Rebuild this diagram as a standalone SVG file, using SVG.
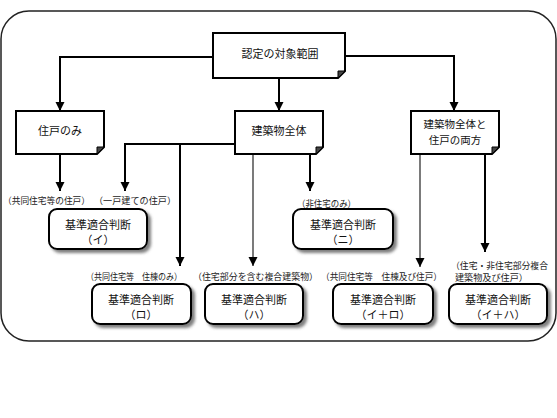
<svg xmlns="http://www.w3.org/2000/svg" width="557" height="418" viewBox="0 0 557 418">
<style>
  .frame { fill: #fff; stroke: #222; stroke-width: 1.5; }
  .note { fill: #fff; stroke: #000; stroke-width: 2; }
  .fold { fill: #444; stroke: #000; stroke-width: 1; }
  .rbox { fill: #fff; stroke: #000; stroke-width: 2; filter: url(#shadow); }
  .t { font-family: "Noto Sans CJK JP", "Noto Sans", sans-serif; font-size: 11px; fill: #111; text-anchor: middle; dominant-baseline: central; }
  .lbl { font-family: "Noto Sans CJK JP", "Noto Sans", sans-serif; font-size: 9px; fill: #222; dominant-baseline: central; }
  .c { fill: none; stroke: #000; stroke-width: 2; marker-end: url(#arr); }
  .c.thin { stroke: #333; stroke-width: 1.3; }
</style>
<defs>
  <marker id="arr" markerUnits="userSpaceOnUse" markerWidth="10" markerHeight="10" refX="9" refY="5" orient="auto">
    <path d="M0,0.5 L9,5 L0,9.5 z" fill="#000"/>
  </marker>
  <filter id="shadow" x="-10%" y="-10%" width="130%" height="140%">
    <feDropShadow dx="3" dy="3" stdDeviation="1.8" flood-color="#555" flood-opacity="0.75"/>
  </filter>
</defs>
<rect width="557" height="418" fill="#fff"/>
<rect class="frame" x="1" y="11" width="555" height="330" rx="28" ry="28"/>

<g id="connectors">
  <path class="c" d="M213,57 H60 V111"/>
  <path class="c" d="M279,78 V111"/>
  <path class="c" d="M345,56 H454 V111"/>
  <path class="c" d="M60,154 V191"/>
  <path class="c" d="M235,144 H125 V191"/>
  <path class="c" d="M180,144 V266"/>
  <path class="c thin" d="M253,154 V266"/>
  <path class="c" d="M310,154 V191"/>
  <path class="c thin" d="M420,154 V267"/>
  <path class="c" d="M485,154 V252"/>
</g>

<g id="scope">
  <path class="note" d="M213,33 H345 V71 L338,78 H213 Z"/>
  <path class="fold" d="M338,78 L345,71 L338,71 Z"/>
  <text class="t" x="280" y="53">認定の対象範囲</text>
</g>
<g id="dwelling-only">
  <path class="note" d="M16,111 H104 V147 L97,154 H16 Z"/>
  <path class="fold" d="M97,154 L104,147 L97,147 Z"/>
  <text class="t" x="60" y="130">住戸のみ</text>
</g>
<g id="whole-building">
  <path class="note" d="M235,111 H323 V147 L316,154 H235 Z"/>
  <path class="fold" d="M316,154 L323,147 L316,147 Z"/>
  <text class="t" x="279" y="130">建築物全体</text>
</g>
<g id="both">
  <path class="note" d="M411,111 H499 V147 L492,154 H411 Z"/>
  <path class="fold" d="M492,154 L499,147 L492,147 Z"/>
  <text class="t" x="455" y="123" style="font-size:10.5px">建築物全体と</text>
  <text class="t" x="455" y="139" style="font-size:10.5px">住戸の両方</text>
</g>

<g id="labels">
  <text class="lbl" x="3" y="200" textLength="87" lengthAdjust="spacingAndGlyphs">（共同住宅等の住戸）</text>
  <text class="lbl" x="94" y="200" textLength="82" lengthAdjust="spacingAndGlyphs">（一戸建ての住戸）</text>
  <text class="lbl" x="297" y="203" textLength="59" lengthAdjust="spacingAndGlyphs">（非住宅のみ）</text>
  <text class="lbl" x="86" y="276" textLength="96" lengthAdjust="spacingAndGlyphs">（共同住宅等　住棟のみ）</text>
  <text class="lbl" x="193" y="276" textLength="125" lengthAdjust="spacingAndGlyphs">（住宅部分を含む複合建築物）</text>
  <text class="lbl" x="321" y="276" textLength="121" lengthAdjust="spacingAndGlyphs">（共同住宅等　住棟及び住戸）</text>
  <text class="lbl" x="451" y="265" textLength="97" lengthAdjust="spacingAndGlyphs">（住宅・非住宅部分複合</text>
  <text class="lbl" x="455" y="277" textLength="73" lengthAdjust="spacingAndGlyphs">建築物及び住戸）</text>
</g>

<g id="judge-i">
  <rect class="rbox" x="49" y="209" width="98" height="40" rx="8"/>
  <text class="t" x="98" y="224">基準適合判断</text>
  <text class="t" x="98" y="239">（イ）</text>
</g>
<g id="judge-ni">
  <rect class="rbox" x="293" y="209" width="100" height="40" rx="8"/>
  <text class="t" x="343" y="224">基準適合判断</text>
  <text class="t" x="343" y="239">（ニ）</text>
</g>
<g id="judge-ro">
  <rect class="rbox" x="92" y="284" width="99" height="40" rx="8"/>
  <text class="t" x="141" y="299">基準適合判断</text>
  <text class="t" x="141" y="314">（ロ）</text>
</g>
<g id="judge-ha">
  <rect class="rbox" x="205" y="284" width="98" height="40" rx="8"/>
  <text class="t" x="254" y="299">基準適合判断</text>
  <text class="t" x="254" y="314">（ハ）</text>
</g>
<g id="judge-i-ro">
  <rect class="rbox" x="333" y="284" width="100" height="40" rx="8"/>
  <text class="t" x="383" y="299">基準適合判断</text>
  <text class="t" x="383" y="314">（イ＋ロ）</text>
</g>
<g id="judge-i-ha">
  <rect class="rbox" x="449" y="284" width="98" height="40" rx="8"/>
  <text class="t" x="498" y="299">基準適合判断</text>
  <text class="t" x="498" y="314">（イ＋ハ）</text>
</g>
</svg>
